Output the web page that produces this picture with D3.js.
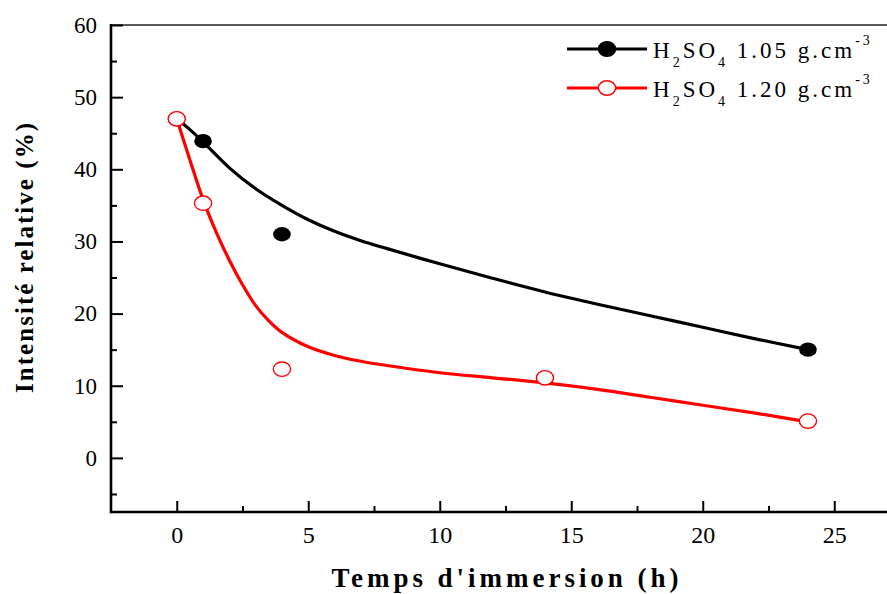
<!DOCTYPE html>
<html>
<head>
<meta charset="utf-8">
<script src="https://cdn.jsdelivr.net/npm/d3@7"></script>
<style>
  body { margin: 0; background: #fff; }
</style>
</head>
<body>
<svg id="chart" width="887" height="594"></svg>
<script type="text/javascript">
// measured points
var hours105 = [0, 1, 4, 24];
var int105 = [47, 43.9, 31.0, 15.0];
var hours120 = [0, 1, 4, 14, 24];
var int120 = [47, 35.3, 12.3, 11.1, 5.1];

// fitted curves
var fitX105 = [0, 0.5, 1, 2, 3, 4, 5, 6, 7, 8, 10, 12, 14, 16, 18, 20, 22, 24];
var fitY105 = [47, 45.5, 43.8, 40.2, 37.3, 35.0, 33.0, 31.4, 30.1, 29.0, 26.9, 24.9, 23.0, 21.3, 19.7, 18.1, 16.5, 15.0];
var fitX120 = [0, 0.5, 1, 1.5, 2, 2.5, 3, 3.5, 4, 5, 6, 7, 8, 10, 12, 14, 16, 18, 20, 22, 24];
var fitY120 = [47, 41.3, 35.8, 31.3, 27.4, 24.0, 21.1, 19.0, 17.4, 15.4, 14.2, 13.4, 12.8, 11.8, 11.1, 10.4, 9.5, 8.4, 7.3, 6.2, 5.0];

var xMajor = [0, 5, 10, 15, 20, 25];
var xMinor = [2.5, 7.5, 12.5, 17.5, 22.5];
var yMajor = [0, 10, 20, 30, 40, 50, 60];
var yMinor = [-5, 5, 15, 25, 35, 45, 55];

var serif = "Liberation Serif";
var svg = d3.select("#chart");

var x = d3.scaleLinear().domain([-2.5, 27.5]).range([111, 900]);
var y = d3.scaleLinear().domain([-7.5, 60]).range([512, 25]);

function zip(a, b) {
  return a.map(function (d, i) { return {x: d, y: b[i]}; });
}

// top frame line
svg.append("line")
  .attr("x1", 111).attr("x2", 887)
  .attr("y1", y(60)).attr("y2", y(60))
  .style("stroke", "#222").style("stroke-width", 1.5);

// minor ticks
svg.append("g")
  .attr("transform", "translate(0," + y(-7.5) + ")")
  .call(d3.axisBottom(x).tickValues(xMinor).tickSize(-6).tickFormat(""))
  .call(function (g) { g.select(".domain").remove(); g.selectAll("line").style("stroke-width", 2); });

svg.append("g")
  .attr("transform", "translate(" + x(-2.5) + ",0)")
  .call(d3.axisLeft(y).tickValues(yMinor).tickSize(-6).tickFormat(""))
  .call(function (g) { g.select(".domain").remove(); g.selectAll("line").style("stroke-width", 2); });

// major ticks
var xAxis = svg.append("g")
  .attr("transform", "translate(0," + y(-7.5) + ")")
  .call(d3.axisBottom(x).tickValues(xMajor).tickSize(-11).tickPadding(14));
xAxis.select(".domain").remove();
xAxis.selectAll("line").style("stroke-width", 2);
xAxis.selectAll("text").attr("y", 14).attr("dy", "0.71em")
  .style("font-family", serif).style("font-size", "24px").style("fill", "#000");

var yAxis = svg.append("g")
  .attr("transform", "translate(" + x(-2.5) + ",0)")
  .call(d3.axisLeft(y).tickValues(yMajor).tickSize(-12).tickPadding(14));
yAxis.select(".domain").remove();
yAxis.selectAll("line").style("stroke-width", 2);
yAxis.selectAll("text")
  .style("font-family", serif).style("font-size", "23px").style("fill", "#000");

// axis lines
svg.append("line")
  .attr("x1", x(-2.5)).attr("x2", 887)
  .attr("y1", y(-7.5)).attr("y2", y(-7.5))
  .style("stroke", "#000").style("stroke-width", 2.6);
svg.append("line")
  .attr("x1", x(-2.5)).attr("x2", x(-2.5))
  .attr("y1", y(60) - 1).attr("y2", y(-7.5) + 1.3)
  .style("stroke", "#000").style("stroke-width", 2.6);

// curves
var line = d3.line()
  .x(function (d) { return x(d.x); })
  .y(function (d) { return y(d.y); })
  .curve(d3.curveCatmullRom.alpha(0.5));

svg.append("path")
  .datum(zip(fitX105, fitY105))
  .style("fill", "none").style("stroke", "#000").style("stroke-width", 3.2)
  .attr("d", line);

svg.append("path")
  .datum(zip(fitX120, fitY120))
  .style("fill", "none").style("stroke", "#ff0000").style("stroke-width", 3.2)
  .attr("d", line);

// points
svg.selectAll(".p105")
  .data(zip(hours105, int105))
  .enter().append("ellipse")
  .attr("class", "p105")
  .attr("cx", function (d) { return x(d.x); })
  .attr("cy", function (d) { return y(d.y); })
  .attr("rx", 8.8).attr("ry", 7.2)
  .style("fill", "#000");

svg.selectAll(".p120")
  .data(zip(hours120, int120))
  .enter().append("ellipse")
  .attr("class", "p120")
  .attr("cx", function (d) { return x(d.x); })
  .attr("cy", function (d) { return y(d.y); })
  .attr("rx", 8.6).attr("ry", 7.2)
  .style("fill", "#fff").style("stroke", "#ff0000").style("stroke-width", 1.4);

// legend
var legend = [
  {dens: "1.05", color: "#000", fill: "#000", y: 49},
  {dens: "1.20", color: "#ff0000", fill: "#fff", y: 88}
];

legend.forEach(function (d) {
  svg.append("line")
    .attr("x1", 567).attr("x2", 647)
    .attr("y1", d.y).attr("y2", d.y)
    .style("stroke", d.color).style("stroke-width", 3.2);
  svg.append("ellipse")
    .attr("cx", 607).attr("cy", d.y)
    .attr("rx", 8.6).attr("ry", 7.2)
    .style("fill", d.fill).style("stroke", d.color).style("stroke-width", 1.4);

  var t = svg.append("text")
    .attr("x", 653).attr("y", d.y + 9)
    .style("font-family", serif)
    .style("font-size", "23px").style("letter-spacing", "3px");
  t.append("tspan").text("H");
  t.append("tspan").attr("dy", 9).style("font-size", "14px").text("2");
  t.append("tspan").attr("dy", -9).text("SO");
  t.append("tspan").attr("dy", 9).style("font-size", "14px").text("4");
  t.append("tspan").attr("dy", -9).text(" " + d.dens + " g.cm");
  t.append("tspan").attr("dy", -13).style("font-size", "14px").text("-3");
});

// axis titles
svg.append("text")
  .attr("x", 505).attr("y", 587)
  .attr("text-anchor", "middle")
  .attr("textLength", 347).attr("lengthAdjust", "spacing")
  .style("font-family", serif)
  .style("font-size", "27px").style("font-weight", "bold")
  .text("Temps d'immersion (h)");

svg.append("text")
  .attr("transform", "translate(33,258) rotate(-90)")
  .attr("text-anchor", "middle")
  .attr("textLength", 270).attr("lengthAdjust", "spacing")
  .style("font-family", serif)
  .style("font-size", "25px").style("font-weight", "bold")
  .text("Intensité relative (%)");
</script>
</body>
</html>
